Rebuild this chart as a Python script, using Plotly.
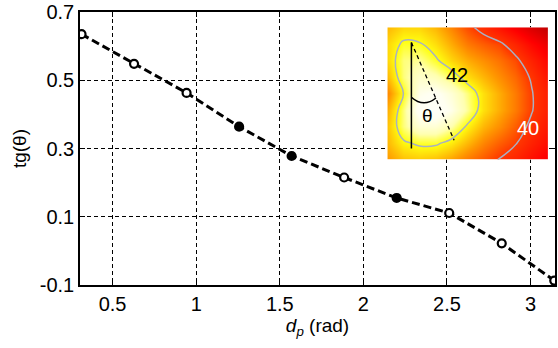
import math
import plotly.graph_objects as go

# ---- main data ----
dp = [k * math.pi / 10 for k in range(1, 11)]
tg_theta = [0.635, 0.548, 0.463, 0.364, 0.278, 0.215, 0.155, 0.111, 0.022, -0.087]
marker_fill = ["white", "white", "white", "black", "black", "white", "black", "white", "white", "white"]

x_ticks = [0.5, 1, 1.5, 2, 2.5, 3]
x_tick_labels = ["0.5", "1", "1.5", "2", "2.5", "3"]
y_ticks = [-0.1, 0.1, 0.3, 0.5, 0.7]
y_tick_labels = ["-0.1", "0.1", "0.3", "0.5", "0.7"]

# ---- inset field ----
inset_u = [0, 0.1, 0.2, 0.3, 0.4, 0.5, 0.6, 0.7, 0.8, 0.9, 1.0]
inset_v = [0, 0.125, 0.25, 0.375, 0.5, 0.625, 0.75, 0.875, 1.0]
inset_z = [
    [41.0, 41.4, 41.5, 41.4, 41.1, 40.7, 40.35, 39.95, 39.5, 38.9, 38.3],
    [41.3, 41.9, 42.1, 42.1, 41.8, 41.3, 40.8, 40.4, 40.05, 39.4, 38.8],
    [41.4, 42.4, 43.0, 43.0, 42.6, 41.9, 41.3, 40.9, 40.4, 39.8, 39.1],
    [41.2, 42.4, 43.5, 43.6, 43.2, 42.5, 41.7, 41.2, 40.7, 40.05, 39.3],
    [40.8, 42.0, 43.2, 43.4, 43.0, 42.4, 41.7, 41.2, 40.7, 40.05, 39.3],
    [41.3, 42.4, 42.9, 42.7, 42.3, 41.7, 41.3, 40.9, 40.5, 39.9, 39.0],
    [41.6, 42.4, 42.5, 42.1, 41.6, 41.2, 40.9, 40.6, 40.2, 39.4, 38.6],
    [41.6, 42.1, 42.05, 41.7, 41.2, 40.7, 40.4, 40.15, 39.5, 38.7, 38.0],
    [41.3, 41.6, 41.6, 41.3, 40.8, 40.2, 39.7, 39.0, 38.3, 37.6, 37.0],
]

FONT = "Liberation Sans, Arial, Helvetica, sans-serif"

fig = go.Figure()

fig.add_trace(go.Scatter(
    x=dp, y=tg_theta, mode="lines+markers",
    line=dict(color="black", width=3, dash="8px,4px"),
    marker=dict(symbol="circle", size=8, color=marker_fill,
                line=dict(color="black", width=2.2)),
    showlegend=False, hoverinfo="skip",
))

fig.add_trace(go.Contour(
    x=inset_u, y=inset_v, z=inset_z, xaxis="x2", yaxis="y2",
    zmin=37, zmax=44,
    colorscale=[
        [0.0, "#c00000"], [0.214, "#ff0000"], [0.4286, "#ff3800"],
        [0.571, "#ff9800"], [0.714, "#ffff10"], [0.8, "#ffffb0"],
        [0.9, "#fffff2"], [1.0, "#ffffff"],
    ],
    contours=dict(coloring="heatmap", start=40, end=42, size=2, showlabels=False),
    line=dict(color="#a9b0c2", width=1.5, smoothing=1.3),
    showscale=False, hoverinfo="skip",
))

fig.update_layout(
    width=558, height=348,
    margin=dict(l=80, r=1, t=8, b=63),
    paper_bgcolor="white", plot_bgcolor="white",
    font=dict(family=FONT, size=20, color="black"),
    xaxis=dict(
        range=[0.305, 3.146], tickvals=x_ticks, ticktext=x_tick_labels,
        showgrid=True, gridcolor="black", gridwidth=1, griddash="4px,3px",
        showline=True, linecolor="black", linewidth=1.5, mirror="ticks",
        ticks="inside", ticklen=5, tickcolor="black", zeroline=False,
        ticklabeloverflow="allow",
        title=dict(text="<i>d</i><sub><i>p</i></sub> (rad)", standoff=4, font=dict(size=19)),
        domain=[0, 1],
    ),
    yaxis=dict(
        range=[-0.1, 0.7], tickvals=y_ticks, ticktext=y_tick_labels,
        showgrid=True, gridcolor="black", gridwidth=1, griddash="4px,3px",
        showline=True, linecolor="black", linewidth=1.5, mirror="ticks",
        ticks="inside", ticklen=5, tickcolor="black", zeroline=False,
        ticklabeloverflow="allow",
        title=dict(text="tg(θ)", standoff=8, font=dict(size=19)),
        domain=[0, 1],
    ),
    xaxis2=dict(domain=[0.647, 0.985], range=[0, 1], anchor="y2",
                showgrid=False, zeroline=False, showticklabels=False, ticks="", showline=False),
    yaxis2=dict(domain=[0.459, 0.944], range=[0, 1], anchor="x2",
                showgrid=False, zeroline=False, showticklabels=False, ticks="", showline=False),
    shapes=[
        dict(type="line", xref="x2", yref="y2", x0=0.15, y0=0.885, x1=0.15, y1=0.085,
             line=dict(color="black", width=1.5)),
        dict(type="line", xref="x2", yref="y2", x0=0.15, y0=0.885, x1=0.416, y1=0.147,
             line=dict(color="black", width=1.3, dash="4px,3px")),
        dict(type="path", xref="x2", yref="y2",
             path="M 0.15,0.472 Q 0.225,0.39 0.303,0.466",
             line=dict(color="black", width=1.5)),
    ],
    annotations=[
        dict(text="42", x=0.435, y=0.64, xref="x2", yref="y2", showarrow=False,
             font=dict(size=20, color="black", family=FONT)),
        dict(text="40", x=0.876, y=0.238, xref="x2", yref="y2", showarrow=False,
             font=dict(size=20, color="white", family=FONT)),
        dict(text="θ", x=0.25, y=0.335, xref="x2", yref="y2", showarrow=False,
             font=dict(size=19, color="black", family=FONT)),
    ],
)

fig.write_html("out.html")
